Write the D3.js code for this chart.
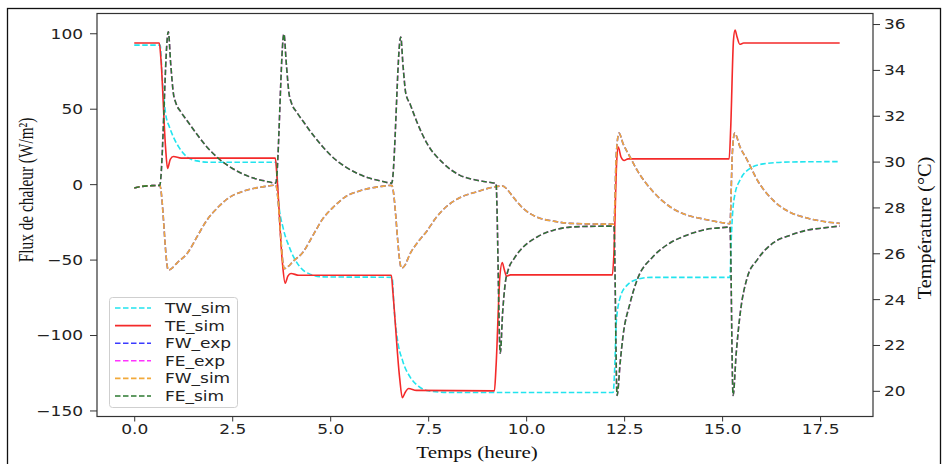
<!DOCTYPE html>
<html><head><meta charset="utf-8">
<script src="https://cdn.jsdelivr.net/npm/d3@7/dist/d3.min.js"></script>
<style>
html,body{margin:0;padding:0;background:#fff;}
svg{display:block;}
</style></head>
<body>
<svg id="chart" width="944" height="464"></svg>
<script>
// ---- data (time in hours) ----
const xTicks = [0, 2.5, 5, 7.5, 10, 12.5, 15, 17.5];
const fluxTicks = [-150, -100, -50, 0, 50, 100];
const tempTicks = [20, 22, 24, 26, 28, 30, 32, 34, 36];
const seriesNames = ["TW_sim", "TE_sim", "FW_exp", "FE_exp", "FW_sim", "FE_sim"];

// temperatures (°C), right axis
const TE_sim = [
[0,35.17],[0.64,35.17],[0.68,34.5],[0.80,30.6],[0.85,29.7],[0.92,30.1],[1.0,30.22],[1.2,30.15],[3.60,30.15],
[3.64,29.4],[3.78,25.6],[3.85,24.7],[3.92,25.0],[4.0,25.12],[4.2,25.04],[6.56,25.04],
[6.60,24.3],[6.77,20.6],[6.84,19.7],[6.92,19.95],[7.0,20.1],[7.2,20.02],[9.19,20.0],
[9.23,21.0],[9.33,25.0],[9.39,25.6],[9.44,25.3],[9.50,25.0],[9.6,25.06],[12.20,25.06],
[12.24,26.0],[12.31,30.0],[12.35,30.63],[12.42,30.2],[12.5,30.05],[12.6,30.12],[15.18,30.12],
[15.22,31.5],[15.29,35.3],[15.33,35.74],[15.38,35.45],[15.45,35.12],[15.55,35.17],[18.0,35.17]
];
const TW_sim = [
[0,35.08],[0.66,35.08],[0.72,33.5],[0.8,32.1],[0.9,31.5],[1.0,31.07],[1.15,30.6],[1.35,30.2],[1.6,30.03],[1.9,29.97],[3.62,29.97],
[3.68,28.3],[3.8,27.1],[3.95,26.3],[4.23,25.4],[4.5,25.08],[4.8,24.97],[6.58,24.95],
[6.63,23.6],[6.71,22.3],[6.85,21.3],[7.04,20.6],[7.25,20.2],[7.5,20.0],[8.0,19.93],[12.22,19.93],
[12.26,21.0],[12.3,23.0],[12.4,24.08],[12.57,24.6],[12.83,24.86],[13.2,24.95],[15.2,24.95],
[15.23,26.5],[15.27,27.8],[15.33,28.6],[15.46,29.2],[15.71,29.7],[16.05,29.9],[16.7,29.98],[18.0,30.0]
];

// heat fluxes (W/m²), left axis
const FE_sim = [
[0,-2.5],[0.2,-1.5],[0.45,-1.0],[0.65,-0.8],
[0.87,101],[0.93,80],[1.0,60],[1.06,54],[1.2,47.5],[1.35,42],[1.6,33],[1.86,24.5],[2.15,17],[2.45,11.3],[2.75,7],[3.04,4],[3.35,2],[3.61,0.7],
[3.82,99.5],[3.88,80],[3.95,60],[4.01,54],[4.15,47.5],[4.3,42],[4.55,33],[4.82,24.5],[5.1,17],[5.4,11.3],[5.7,7],[6.0,4],[6.3,2],[6.57,0.7],
[6.80,97.5],[6.86,78],[6.93,60],[7.04,53],[7.2,42],[7.47,27],[7.88,14],[8.3,6],[8.75,2.6],[9.16,0.8],[9.23,0.5],
[9.34,-112],[9.40,-85],[9.47,-65],[9.54,-57],[9.7,-49],[9.85,-43.8],[10.28,-35],[10.7,-30.5],[11.12,-28.5],[11.6,-28],[12.24,-27.8],
[12.32,-140],[12.40,-118],[12.47,-101],[12.65,-79],[12.83,-63.6],[13.24,-48],[13.67,-39],[14.1,-33.8],[14.5,-30.5],[15.13,-28.5],[15.2,-28.3],
[15.28,-140],[15.36,-112],[15.46,-86],[15.64,-62],[15.9,-50],[16.3,-39],[16.73,-34],[17.17,-30.5],[17.6,-29],[18.0,-27.8]
];
const FW_sim = [
[0,-2.5],[0.2,-1.5],[0.45,-1.0],[0.65,-0.8],
[0.87,-57],[0.95,-56],[1.1,-52],[1.35,-46],[1.6,-35],[1.85,-24],[2.15,-15],[2.45,-8.4],[2.75,-5],[3.04,-2.9],[3.35,-1.5],[3.61,-0.7],
[3.83,-56],[3.91,-55],[4.06,-51],[4.31,-45],[4.56,-34],[4.81,-23],[5.11,-14.5],[5.41,-8],[5.71,-4.8],[6.0,-2.8],[6.31,-1.5],[6.57,-0.8],
[6.82,-55.7],[6.9,-54],[7.04,-46],[7.25,-38],[7.47,-31],[7.68,-23],[7.88,-17],[8.3,-9],[8.75,-5],[9.16,-2],[9.4,-1.2],
[9.5,-3],[9.67,-8.6],[9.92,-16],[10.28,-21.9],[10.7,-24.5],[11.12,-26],[11.96,-26.5],[12.24,-26.5],
[12.30,20],[12.37,33.8],[12.47,27],[12.65,18],[12.83,9.3],[13.24,-5],[13.67,-15],[14.1,-20.5],[14.5,-23],[15.13,-26],[15.2,-26.2],
[15.26,20],[15.32,33.8],[15.46,24.5],[15.64,16],[15.9,2.6],[16.3,-10.6],[16.73,-18.6],[17.17,-22.5],[17.6,-24.8],[18.0,-26]
];
// measured fluxes lie on top of the simulated ones in the picture
const FW_exp = FW_sim;
const FE_exp = FE_sim;

// ---- layout ----
const svg = d3.select("#chart");
const L = 97, R = 873, T = 13.5, B = 416.5;
const x = d3.scaleLinear().domain([-0.95, 18.85]).range([L, R]);
const yF = d3.scaleLinear().domain([-154, 113.1]).range([B, T]);
const yT = d3.scaleLinear().domain([18.88, 36.46]).range([B, T]);

// outer frame
svg.append("rect").attr("x", 7.5).attr("y", 8.5).attr("width", 933).attr("height", 470)
  .attr("fill", "none").attr("stroke", "#111").attr("stroke-width", 1.3);

const series = [
  {name: "FW_exp", data: FW_exp, y: yF, color: "#3b3bff", dash: "5.5,2.5"},
  {name: "FE_exp", data: FE_exp, y: yF, color: "#ff33ff", dash: "5.5,2.5"},
  {name: "TW_sim", data: TW_sim, y: yT, color: "#22e4ee", dash: "5.5,2.5"},
  {name: "TE_sim", data: TE_sim, y: yT, color: "#f42a2a", dash: null},
  {name: "FW_sim", data: FW_sim, y: yF, color: "#f2a93b", dash: "5.5,2.5"},
  {name: "FE_sim", data: FE_sim, y: yF, color: "#2c7a31", dash: "5.5,2.5"}
];

const g = svg.append("g");
series.forEach(s => {
  const line = d3.line().x(d => x(d[0])).y(d => s.y(d[1])).curve(d3.curveMonotoneX);
  g.append("path").datum(s.data).attr("d", line)
    .attr("fill", "none").attr("stroke", s.color).attr("stroke-width", 1.6)
    .attr("stroke-dasharray", s.dash);
});

// ---- axes ----
const tickFont = "'DejaVu Sans', sans-serif";
function styleAxis(sel) {
  sel.select(".domain").remove();
  sel.selectAll(".tick line").attr("stroke", "#333").attr("stroke-width", 1);
  sel.selectAll(".tick text").attr("fill", "#222").style("font-family", tickFont).style("font-size", "17px");
}
const gx = svg.append("g").attr("transform", `translate(0,${B})`)
  .call(d3.axisBottom(x).tickValues(xTicks).tickFormat(d3.format(".1f")).tickSize(5));
styleAxis(gx);
gx.selectAll(".tick text").attr("y", 21.5).attr("dy", 0).attr("transform", "scale(1,0.8)");

const gl = svg.append("g").attr("transform", `translate(${L},0)`)
  .call(d3.axisLeft(yF).tickValues(fluxTicks).tickFormat(d3.format("d")).tickSize(7).tickPadding(7));
styleAxis(gl);
gl.selectAll(".tick text").attr("dy", "0.36em").attr("transform", "scale(1,0.8)");

const gr = svg.append("g").attr("transform", `translate(${R},0)`)
  .call(d3.axisRight(yT).tickValues(tempTicks).tickFormat(d3.format("d")).tickSize(7).tickPadding(4));
styleAxis(gr);
gr.selectAll(".tick text").attr("dy", "0.36em").attr("transform", "scale(1,0.8)");

// spines
svg.append("rect").attr("x", L).attr("y", T).attr("width", R - L).attr("height", B - T)
  .attr("fill", "none").attr("stroke", "#333").attr("stroke-width", 1.2);

// axis labels
const serif = "'Liberation Serif', 'Times New Roman', serif";
svg.append("text").text("Temps (heure)")
  .attr("transform", "translate(477,458) scale(1,0.8)")
  .attr("text-anchor", "middle").style("font-family", serif).style("font-size", "21px").attr("fill", "#111");
svg.append("text").text("Flux de chaleur (W/m²)")
  .attr("transform", "translate(33,190) rotate(-90) scale(0.73,1)")
  .attr("text-anchor", "middle").style("font-family", serif).style("font-size", "21px").attr("fill", "#111");
svg.append("text").text("Température (°C)")
  .attr("transform", "translate(931,228) rotate(-90) scale(1.13,1)")
  .attr("text-anchor", "middle").style("font-family", serif).style("font-size", "18px").attr("fill", "#111");

// ---- legend ----
const legendOrder = seriesNames.map(n => series.find(s => s.name === n));
const lg = svg.append("g");
lg.append("rect").attr("x", 109.5).attr("y", 297.5).attr("width", 128).attr("height", 110).attr("rx", 3)
  .attr("fill", "#fff").attr("fill-opacity", 0.85).attr("stroke", "#cfcfcf");
legendOrder.forEach((s, i) => {
  const yy = 308 + i * 17.6;
  lg.append("line").attr("x1", 115).attr("x2", 151).attr("y1", yy).attr("y2", yy)
    .attr("stroke", s.color).attr("stroke-width", 1.6).attr("stroke-dasharray", s.dash);
  lg.append("text").text(s.name).attr("transform", `translate(165,${yy}) scale(1,0.8)`)
    .attr("dy", "0.36em").style("font-family", tickFont).style("font-size", "17px").attr("fill", "#222");
});
</script>
</body></html>
